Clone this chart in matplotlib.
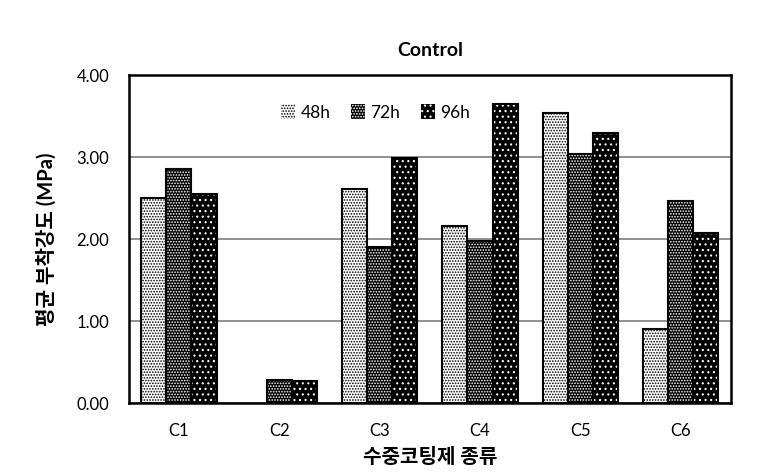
import numpy as np
import matplotlib.pyplot as plt

plt.rcParams['font.family'] = ['Lato', 'Noto Sans CJK KR', 'DejaVu Sans']
plt.rcParams['hatch.linewidth'] = 0.8

# data
categories = ["C1", "C2", "C3", "C4", "C5", "C6"]
series_names = ["48h", "72h", "96h"]
v48 = [2.50, 0.00, 2.61, 2.16, 3.54, 0.90]
v72 = [2.85, 0.28, 1.90, 1.98, 3.04, 2.46]
v96 = [2.55, 0.27, 2.99, 3.65, 3.29, 2.07]

fig = plt.figure(figsize=(7.71, 4.76), dpi=100)
ax = fig.add_axes([0.167, 0.153, 0.781, 0.689])

x = np.arange(len(categories))
w = 0.25
styles = [
    # face, hatch colour, hatch
    ("white", "black", "......"),
    ("black", "white", "......"),
    ("black", "white", "..."),
]
handles = []
for i, (vals, (face, hc, hatch)) in enumerate(zip([v48, v72, v96], styles)):
    pos = x + (i - 1) * w
    ax.bar(pos, vals, w, color=face, linewidth=0, zorder=2)
    ax.bar(pos, vals, w, facecolor="none", edgecolor=hc, hatch=hatch, linewidth=0, zorder=3)
    ax.bar(pos, [v if v > 0 else np.nan for v in vals], w, fill=False,
           edgecolor="black", linewidth=1.5, zorder=4)
    # legend proxy
    h = plt.Rectangle((0, 0), 1, 1, facecolor=face, edgecolor=hc, hatch=hatch, linewidth=0)
    handles.append(h)

ax.set_xlim(-0.5, 5.5)
ax.set_ylim(0, 4)
ax.set_yticks([0, 1, 2, 3, 4])
ax.set_yticklabels(["0.00", "1.00", "2.00", "3.00", "4.00"], fontsize=12)
ax.set_xticks(x)
ax.set_xticklabels(categories, fontsize=12)
ax.tick_params(axis="x", length=0, pad=14)
ax.tick_params(axis="y", length=0, pad=14)
ax.yaxis.grid(True, color="#888888", linewidth=1.3, zorder=0)
ax.set_axisbelow(True)
for s in ax.spines.values():
    s.set_linewidth(1.8)
    s.set_color("black")

ax.set_title("Control", fontsize=14, fontweight="bold", pad=14)
ax.set_xlabel("수중코팅제 종류", fontsize=14.5, fontweight="bold", labelpad=6)
ax.set_ylabel("평균 부착강도 (MPa)", fontsize=14.5, fontweight="bold", labelpad=14)

ax.legend(handles, series_names, loc="upper center", bbox_to_anchor=(0.41, 0.96),
          ncol=3, frameon=False, fontsize=12.5, handlelength=0.8, handleheight=1.0,
          handletextpad=0.3, columnspacing=1.2)

fig.savefig("out.png", dpi=100)
